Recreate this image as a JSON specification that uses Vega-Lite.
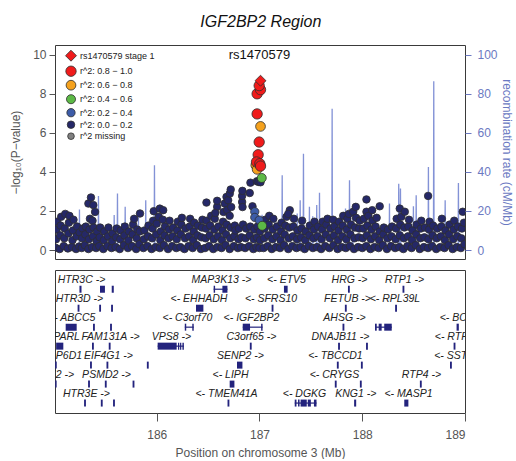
{
"$schema": "https://vega.github.io/schema/vega-lite/v6.json",
"background": "white",
"padding": {"left": 9, "top": 13, "right": 0, "bottom": 0},
"title": {"text": "IGF2BP2 Region", "fontSize": 16, "fontStyle": "italic", "fontWeight": "normal", "color": "#111", "offset": 15, "anchor": "middle"},
"config": {
 "font": "Liberation Sans",
 "view": {"stroke": "#3a3a3a", "strokeWidth": 1},
 "axis": {"grid": false, "domain": false, "labelFontSize": 12, "titleFontSize": 12, "titleFontWeight": "normal", "labelColor": "#555", "titleColor": "#555", "tickColor": "#555", "labelFont": "Liberation Sans", "titleFont": "Liberation Sans"},
 "legend": {"labelFont": "Liberation Sans"}
},
"bounds": "flush",
"spacing": 11,
"vconcat": [
{
 "width": 410, "height": 214,
 "encoding": {"x": {"field": "x", "type": "quantitative", "scale": {"domain": [185.01, 189.0], "nice": false, "zero": false}, "axis": null}},
 "layer": [
 {
  "data": {"values": [
   {"x":185.01,"rate":2},{"x":185.1,"rate":1.5},
   {"x":185.245,"rate":1},{"x":185.248,"rate":20.8},{"x":185.251,"rate":1.5},
   {"x":185.35,"rate":2},
   {"x":185.43,"rate":1},{"x":185.433,"rate":27.6},{"x":185.436,"rate":1.5},
   {"x":185.583,"rate":1},{"x":185.586,"rate":17.9},{"x":185.589,"rate":1.5},
   {"x":185.615,"rate":1.2},{"x":185.618,"rate":28.9},{"x":185.621,"rate":1.5},
   {"x":185.657,"rate":1},{"x":185.66,"rate":13.8},{"x":185.663,"rate":1.2},
   {"x":185.69,"rate":1},{"x":185.693,"rate":22.1},{"x":185.696,"rate":1.2},
   {"x":185.819,"rate":1},{"x":185.822,"rate":17},{"x":185.825,"rate":1.5},
   {"x":185.89,"rate":1},{"x":185.893,"rate":25.5},{"x":185.896,"rate":1.5},
   {"x":185.975,"rate":1},{"x":185.978,"rate":43.4},{"x":185.981,"rate":1.5},
   {"x":186.1,"rate":1},{"x":186.3,"rate":0.8},
   {"x":186.527,"rate":0.8},{"x":186.53,"rate":6.5},{"x":186.533,"rate":0.8},
   {"x":186.7,"rate":1},{"x":186.85,"rate":2},
   {"x":187.022,"rate":2},{"x":187.025,"rate":18},{"x":187.028,"rate":2},
   {"x":187.147,"rate":1.5},{"x":187.15,"rate":15},{"x":187.153,"rate":1.5},
   {"x":187.218,"rate":1.5},{"x":187.221,"rate":38.3},{"x":187.224,"rate":1.5},
   {"x":187.3,"rate":2},
   {"x":187.364,"rate":1.5},{"x":187.367,"rate":18.7},{"x":187.37,"rate":1.5},
   {"x":187.393,"rate":1.5},{"x":187.396,"rate":25.5},{"x":187.399,"rate":1.5},
   {"x":187.425,"rate":1.5},{"x":187.428,"rate":49.3},{"x":187.431,"rate":1.5},
   {"x":187.483,"rate":1.5},{"x":187.486,"rate":22.1},{"x":187.489,"rate":1.5},
   {"x":187.515,"rate":1.5},{"x":187.518,"rate":17.3},{"x":187.521,"rate":1.5},
   {"x":187.554,"rate":1.5},{"x":187.557,"rate":23},{"x":187.56,"rate":1.5},
   {"x":187.581,"rate":1.5},{"x":187.584,"rate":29.3},{"x":187.587,"rate":1.5},
   {"x":187.704,"rate":1.5},{"x":187.707,"rate":72.3},{"x":187.71,"rate":1.5},
   {"x":187.834,"rate":1.5},{"x":187.837,"rate":21.3},{"x":187.84,"rate":1.5},
   {"x":187.873,"rate":1.5},{"x":187.876,"rate":35.7},{"x":187.879,"rate":1.5},
   {"x":187.905,"rate":1.5},{"x":187.908,"rate":22.1},{"x":187.911,"rate":1.5},
   {"x":188.05,"rate":1.5},
   {"x":188.223,"rate":1.5},{"x":188.226,"rate":12.2},{"x":188.229,"rate":1.5},
   {"x":188.262,"rate":1.5},{"x":188.265,"rate":23.8},{"x":188.268,"rate":1.5},
   {"x":188.352,"rate":1.5},{"x":188.355,"rate":34},{"x":188.358,"rate":1.5},
   {"x":188.369,"rate":1.5},{"x":188.372,"rate":31.5},{"x":188.375,"rate":1.5},
   {"x":188.495,"rate":1.5},{"x":188.498,"rate":22.4},{"x":188.501,"rate":1.5},
   {"x":188.522,"rate":1.5},{"x":188.525,"rate":28.1},{"x":188.528,"rate":1.5},
   {"x":188.641,"rate":1.5},{"x":188.644,"rate":42.5},{"x":188.647,"rate":1.5},
   {"x":188.693,"rate":1.5},{"x":188.696,"rate":86.4},{"x":188.699,"rate":1.5},
   {"x":188.804,"rate":1.5},{"x":188.807,"rate":25.5},{"x":188.81,"rate":1.5},
   {"x":188.933,"rate":1.5},{"x":188.936,"rate":34.3},{"x":188.939,"rate":1.5},
   {"x":189.0,"rate":2}
  ]},
  "mark": {"type": "line", "color": "#5A6DC8", "strokeWidth": 1.3, "opacity": 0.75, "clip": true},
  "encoding": {
   "y": {"field": "rate", "type": "quantitative", "scale": {"domain": [-4.6, 105], "nice": false, "zero": false},
    "axis": {"orient": "right", "values": [0,20,40,60,80,100], "title": "recombination rate (cM/Mb)", "labelColor": "#6B79C2", "titleColor": "#6B79C2", "tickColor": "#6B79C2", "tickSize": 6, "labelPadding": 6, "titlePadding": 2}}
  }
 },
 {
  "layer": [
  {
   "data": {"values": [
{"x":185.015,"p":0.12,"ld":"0.0"},{"x":185.02,"p":0.55,"ld":"0.0"},{"x":185.025,"p":1.05,"ld":"0.0"},{"x":185.03,"p":1.45,"ld":"0.0"},
{"x":185.055,"p":0.05,"ld":"0.0"},{"x":185.06,"p":0.75,"ld":"0.0"},{"x":185.065,"p":1.25,"ld":"0.0"},{"x":185.07,"p":1.7,"ld":"0.0"},
{"x":185.095,"p":0.2,"ld":"0.0"},{"x":185.1,"p":0.6,"ld":"0.0"},{"x":185.105,"p":1.1,"ld":"0.0"},{"x":185.11,"p":1.85,"ld":"0.0"},
{"x":185.135,"p":0.08,"ld":"0.0"},{"x":185.14,"p":0.85,"ld":"0.0"},{"x":185.145,"p":1.4,"ld":"0.0"},{"x":185.15,"p":1.75,"ld":"0.0"},
{"x":185.175,"p":0.15,"ld":"0.0"},{"x":185.18,"p":0.5,"ld":"0.0"},{"x":185.185,"p":1.0,"ld":"0.0"},{"x":185.19,"p":1.55,"ld":"0.0"},
{"x":185.215,"p":0.05,"ld":"0.0"},{"x":185.22,"p":0.7,"ld":"0.0"},{"x":185.225,"p":1.2,"ld":"0.0"},
{"x":185.245,"p":0.18,"ld":"0.0"},{"x":185.25,"p":0.9,"ld":"0.0"},
{"x":185.27,"p":0.1,"ld":"0.0"},{"x":185.275,"p":0.6,"ld":"0.0"},{"x":185.28,"p":1.1,"ld":"0.0"},
{"x":185.3,"p":0.25,"ld":"0.0"},{"x":185.305,"p":0.8,"ld":"0.0"},{"x":185.31,"p":1.2,"ld":"0.0"},
{"x":185.335,"p":0.05,"ld":"0.0"},{"x":185.34,"p":0.55,"ld":"0.0"},{"x":185.345,"p":1.05,"ld":"0.0"},{"x":185.335,"p":2.38,"ld":"0.0"},{"x":185.36,"p":2.69,"ld":"0.0"},{"x":185.383,"p":2.3,"ld":"0.0"},{"x":185.4,"p":1.95,"ld":"0.0"},{"x":185.35,"p":1.6,"ld":"0.0"},{"x":185.375,"p":1.5,"ld":"0.0"},
{"x":185.37,"p":0.15,"ld":"0.0"},{"x":185.38,"p":0.7,"ld":"0.0"},{"x":185.385,"p":1.15,"ld":"0.0"},
{"x":185.41,"p":0.1,"ld":"0.0"},{"x":185.415,"p":0.45,"ld":"0.0"},{"x":185.42,"p":0.95,"ld":"0.0"},
{"x":185.44,"p":0.2,"ld":"0.0"},{"x":185.445,"p":0.65,"ld":"0.0"},{"x":185.45,"p":1.15,"ld":"0.0"},
{"x":185.48,"p":0.05,"ld":"0.0"},{"x":185.485,"p":0.5,"ld":"0.0"},{"x":185.49,"p":0.95,"ld":"0.0"},
{"x":185.52,"p":0.2,"ld":"0.0"},{"x":185.525,"p":0.7,"ld":"0.0"},{"x":185.53,"p":1.15,"ld":"0.0"},
{"x":185.56,"p":0.1,"ld":"0.0"},{"x":185.565,"p":0.45,"ld":"0.0"},{"x":185.57,"p":0.85,"ld":"0.0"},
{"x":185.6,"p":0.15,"ld":"0.0"},{"x":185.605,"p":0.65,"ld":"0.0"},{"x":185.61,"p":1.1,"ld":"0.0"},
{"x":185.64,"p":0.05,"ld":"0.0"},{"x":185.645,"p":0.55,"ld":"0.0"},{"x":185.65,"p":1.0,"ld":"0.0"},
{"x":185.68,"p":0.25,"ld":"0.0"},{"x":185.685,"p":0.75,"ld":"0.0"},{"x":185.69,"p":1.2,"ld":"0.0"},
{"x":185.72,"p":0.1,"ld":"0.0"},{"x":185.725,"p":0.5,"ld":"0.0"},{"x":185.73,"p":0.95,"ld":"0.0"},
{"x":185.76,"p":0.2,"ld":"0.0"},{"x":185.765,"p":0.8,"ld":"0.0"},{"x":185.77,"p":1.3,"ld":"0.0"},{"x":185.78,"p":1.6,"ld":"0.0"},
{"x":185.8,"p":0.05,"ld":"0.0"},{"x":185.805,"p":0.6,"ld":"0.0"},{"x":185.81,"p":1.05,"ld":"0.0"},{"x":185.837,"p":1.87,"ld":"0.0"},
{"x":185.83,"p":0.3,"ld":"0.0"},{"x":185.835,"p":0.95,"ld":"0.0"},
{"x":185.87,"p":0.1,"ld":"0.0"},{"x":185.875,"p":0.55,"ld":"0.0"},{"x":185.88,"p":1.0,"ld":"0.0"},
{"x":185.91,"p":0.2,"ld":"0.0"},{"x":185.915,"p":0.7,"ld":"0.0"},{"x":185.92,"p":1.25,"ld":"0.0"},
{"x":185.95,"p":0.05,"ld":"0.0"},{"x":185.955,"p":0.6,"ld":"0.0"},{"x":185.96,"p":1.1,"ld":"0.0"},{"x":185.965,"p":1.5,"ld":"0.0"},{"x":185.971,"p":1.99,"ld":"0.0"},
{"x":185.99,"p":0.15,"ld":"0.0"},{"x":185.995,"p":0.8,"ld":"0.0"},{"x":186.0,"p":1.35,"ld":"0.0"},{"x":186.03,"p":2.12,"ld":"0.0"},{"x":186.02,"p":1.7,"ld":"0.0"},
{"x":186.03,"p":0.1,"ld":"0.0"},{"x":186.035,"p":0.5,"ld":"0.0"},{"x":186.04,"p":0.95,"ld":"0.0"},{"x":186.063,"p":2.04,"ld":"0.0"},{"x":186.06,"p":1.55,"ld":"0.0"},
{"x":186.07,"p":0.25,"ld":"0.0"},{"x":186.075,"p":0.75,"ld":"0.0"},{"x":186.08,"p":1.2,"ld":"0.0"},
{"x":186.11,"p":0.05,"ld":"0.0"},{"x":186.115,"p":0.6,"ld":"0.0"},{"x":186.12,"p":1.05,"ld":"0.0"},{"x":186.125,"p":1.5,"ld":"0.0"},
{"x":186.15,"p":0.2,"ld":"0.0"},{"x":186.155,"p":0.7,"ld":"0.0"},{"x":186.16,"p":1.15,"ld":"0.0"},
{"x":186.19,"p":0.1,"ld":"0.0"},{"x":186.195,"p":0.55,"ld":"0.0"},{"x":186.2,"p":1.0,"ld":"0.0"},{"x":186.205,"p":1.45,"ld":"0.0"},
{"x":186.23,"p":0.15,"ld":"0.0"},{"x":186.235,"p":0.8,"ld":"0.0"},{"x":186.24,"p":1.3,"ld":"0.0"},{"x":186.245,"p":1.65,"ld":"0.0"},
{"x":186.27,"p":0.05,"ld":"0.0"},{"x":186.275,"p":0.6,"ld":"0.0"},{"x":186.28,"p":1.1,"ld":"0.0"},
{"x":186.31,"p":0.2,"ld":"0.0"},{"x":186.315,"p":0.7,"ld":"0.0"},{"x":186.32,"p":1.2,"ld":"0.0"},{"x":186.325,"p":1.6,"ld":"0.0"},
{"x":186.35,"p":0.1,"ld":"0.0"},{"x":186.355,"p":0.5,"ld":"0.0"},{"x":186.36,"p":0.95,"ld":"0.0"},{"x":186.365,"p":1.4,"ld":"0.0"},
{"x":186.39,"p":0.25,"ld":"0.0"},{"x":186.395,"p":0.75,"ld":"0.0"},{"x":186.4,"p":1.25,"ld":"0.0"},
{"x":186.43,"p":0.05,"ld":"0.0"},{"x":186.435,"p":0.65,"ld":"0.0"},{"x":186.44,"p":1.15,"ld":"0.0"},{"x":186.445,"p":1.55,"ld":"0.0"},
{"x":186.484,"p":2.43,"ld":"0.0"},
{"x":186.47,"p":0.1,"ld":"0.0"},{"x":186.475,"p":0.6,"ld":"0.0"},{"x":186.48,"p":1.1,"ld":"0.0"},{"x":186.485,"p":1.5,"ld":"0.0"},
{"x":186.51,"p":0.2,"ld":"0.0"},{"x":186.515,"p":0.75,"ld":"0.0"},{"x":186.52,"p":1.25,"ld":"0.0"},{"x":186.53,"p":1.75,"ld":"0.0"},
{"x":186.55,"p":0.05,"ld":"0.0"},{"x":186.555,"p":0.55,"ld":"0.0"},{"x":186.56,"p":1.05,"ld":"0.0"},{"x":186.565,"p":1.6,"ld":"0.0"},{"x":186.588,"p":2.21,"ld":"0.0"},{"x":186.588,"p":2.52,"ld":"0.0"},{"x":186.57,"p":1.9,"ld":"0.0"},
{"x":186.59,"p":0.15,"ld":"0.0"},{"x":186.595,"p":0.7,"ld":"0.0"},{"x":186.6,"p":1.2,"ld":"0.0"},
{"x":186.63,"p":0.1,"ld":"0.0"},{"x":186.635,"p":0.5,"ld":"0.0"},{"x":186.64,"p":1.0,"ld":"0.0"},{"x":186.645,"p":1.45,"ld":"0.0"},{"x":186.662,"p":2.38,"ld":"0.0"},{"x":186.65,"p":1.95,"ld":"0.0"},{"x":186.679,"p":2.72,"ld":"0.0"},{"x":186.685,"p":2.05,"ld":"0.0"},
{"x":186.67,"p":0.25,"ld":"0.0"},{"x":186.675,"p":0.8,"ld":"0.0"},{"x":186.68,"p":1.3,"ld":"0.0"},{"x":186.695,"p":2.55,"ld":"0.0"},{"x":186.711,"p":2.89,"ld":"0.0"},{"x":186.72,"p":3.1,"ld":"0.0"},{"x":186.71,"p":1.75,"ld":"0.0"},{"x":186.725,"p":2.2,"ld":"0.0"},
{"x":186.71,"p":0.05,"ld":"0.0"},{"x":186.715,"p":0.6,"ld":"0.0"},{"x":186.72,"p":1.15,"ld":"0.0"},
{"x":186.75,"p":0.2,"ld":"0.0"},{"x":186.755,"p":0.7,"ld":"0.0"},{"x":186.76,"p":1.25,"ld":"0.0"},{"x":186.765,"p":1.0,"ld":"0.0"},
{"x":186.79,"p":0.1,"ld":"0.0"},{"x":186.795,"p":0.55,"ld":"0.0"},{"x":186.8,"p":1.1,"ld":"0.0"},
{"x":186.82,"p":0.15,"ld":"0.0"},{"x":186.825,"p":0.65,"ld":"0.0"},{"x":186.831,"p":2.46,"ld":"0.0"},{"x":186.831,"p":2.77,"ld":"0.0"},{"x":186.834,"p":3.03,"ld":"0.0"},{"x":186.835,"p":2.2,"ld":"0.0"},{"x":186.84,"p":1.3,"ld":"0.0"},
{"x":186.86,"p":0.1,"ld":"0.0"},{"x":186.865,"p":0.6,"ld":"0.0"},{"x":186.87,"p":1.1,"ld":"0.0"},
{"x":186.9,"p":0.2,"ld":"0.0"},{"x":186.905,"p":0.75,"ld":"0.0"},{"x":186.905,"p":2.92,"ld":"0.0"},{"x":186.912,"p":3.45,"ld":"0.0"},{"x":186.91,"p":1.2,"ld":"0.0"},
{"x":186.94,"p":0.05,"ld":"0.0"},{"x":186.945,"p":0.55,"ld":"0.0"},{"x":186.932,"p":2.24,"ld":"0.0"},{"x":186.95,"p":1.05,"ld":"0.0"},
{"x":186.97,"p":0.15,"ld":"0.0"},{"x":186.975,"p":0.65,"ld":"0.0"},{"x":186.98,"p":1.2,"ld":"0.0"},
{"x":187.0,"p":0.1,"ld":"0.0"},{"x":187.005,"p":0.5,"ld":"0.0"},{"x":187.005,"p":0.95,"ld":"0.0"},
{"x":186.975,"p":3.52,"ld":"0.0"},{"x":186.99,"p":3.49,"ld":"0.0"},{"x":187.01,"p":3.47,"ld":"0.0"},
{"x":187.04,"p":0.1,"ld":"0.0"},{"x":187.045,"p":0.6,"ld":"0.0"},{"x":187.05,"p":1.1,"ld":"0.0"},{"x":187.055,"p":1.55,"ld":"0.0"},
{"x":187.08,"p":0.2,"ld":"0.0"},{"x":187.085,"p":0.75,"ld":"0.0"},{"x":187.09,"p":1.3,"ld":"0.0"},{"x":187.095,"p":1.75,"ld":"0.0"},
{"x":187.12,"p":0.05,"ld":"0.0"},{"x":187.125,"p":0.55,"ld":"0.0"},{"x":187.13,"p":1.05,"ld":"0.0"},{"x":187.135,"p":1.6,"ld":"0.0"},
{"x":187.16,"p":0.15,"ld":"0.0"},{"x":187.165,"p":0.7,"ld":"0.0"},{"x":187.17,"p":1.2,"ld":"0.0"},
{"x":187.2,"p":0.1,"ld":"0.0"},{"x":187.205,"p":0.5,"ld":"0.0"},{"x":187.21,"p":0.95,"ld":"0.0"},{"x":187.215,"p":1.4,"ld":"0.0"},
{"x":187.24,"p":0.25,"ld":"0.0"},{"x":187.245,"p":0.8,"ld":"0.0"},{"x":187.25,"p":1.25,"ld":"0.0"},{"x":187.263,"p":1.7,"ld":"0.0"},{"x":187.295,"p":2.04,"ld":"0.0"},{"x":187.28,"p":1.85,"ld":"0.0"},
{"x":187.28,"p":0.05,"ld":"0.0"},{"x":187.285,"p":0.6,"ld":"0.0"},{"x":187.29,"p":1.15,"ld":"0.0"},
{"x":187.32,"p":0.2,"ld":"0.0"},{"x":187.325,"p":0.7,"ld":"0.0"},{"x":187.33,"p":1.2,"ld":"0.0"},{"x":187.335,"p":1.6,"ld":"0.0"},
{"x":187.36,"p":0.1,"ld":"0.0"},{"x":187.365,"p":0.55,"ld":"0.0"},{"x":187.37,"p":1.0,"ld":"0.0"},
{"x":187.4,"p":0.15,"ld":"0.0"},{"x":187.405,"p":0.65,"ld":"0.0"},{"x":187.41,"p":1.1,"ld":"0.0"},{"x":187.415,"p":1.5,"ld":"0.0"},
{"x":187.44,"p":0.05,"ld":"0.0"},{"x":187.445,"p":0.5,"ld":"0.0"},{"x":187.45,"p":0.95,"ld":"0.0"},
{"x":187.48,"p":0.2,"ld":"0.0"},{"x":187.485,"p":0.75,"ld":"0.0"},{"x":187.49,"p":1.25,"ld":"0.0"},
{"x":187.52,"p":0.1,"ld":"0.0"},{"x":187.525,"p":0.6,"ld":"0.0"},{"x":187.53,"p":1.05,"ld":"0.0"},{"x":187.535,"p":1.45,"ld":"0.0"},
{"x":187.56,"p":0.15,"ld":"0.0"},{"x":187.565,"p":0.7,"ld":"0.0"},{"x":187.57,"p":1.2,"ld":"0.0"},
{"x":187.6,"p":0.05,"ld":"0.0"},{"x":187.605,"p":0.55,"ld":"0.0"},{"x":187.61,"p":1.05,"ld":"0.0"},{"x":187.615,"p":1.45,"ld":"0.0"},
{"x":187.64,"p":0.2,"ld":"0.0"},{"x":187.645,"p":0.8,"ld":"0.0"},{"x":187.65,"p":1.3,"ld":"0.0"},{"x":187.662,"p":1.6,"ld":"0.0"},
{"x":187.68,"p":0.1,"ld":"0.0"},{"x":187.685,"p":0.6,"ld":"0.0"},{"x":187.69,"p":1.1,"ld":"0.0"},{"x":187.717,"p":1.55,"ld":"0.0"},
{"x":187.72,"p":0.25,"ld":"0.0"},{"x":187.725,"p":0.75,"ld":"0.0"},{"x":187.73,"p":1.2,"ld":"0.0"},
{"x":187.76,"p":0.05,"ld":"0.0"},{"x":187.765,"p":0.5,"ld":"0.0"},{"x":187.77,"p":1.0,"ld":"0.0"},{"x":187.775,"p":1.45,"ld":"0.0"},
{"x":187.8,"p":0.15,"ld":"0.0"},{"x":187.805,"p":0.7,"ld":"0.0"},{"x":187.81,"p":1.25,"ld":"0.0"},{"x":187.815,"p":1.75,"ld":"0.0"},
{"x":187.84,"p":0.1,"ld":"0.0"},{"x":187.845,"p":0.55,"ld":"0.0"},{"x":187.85,"p":1.05,"ld":"0.0"},{"x":187.855,"p":1.6,"ld":"0.0"},{"x":187.87,"p":1.85,"ld":"0.0"},
{"x":187.88,"p":0.2,"ld":"0.0"},{"x":187.885,"p":0.8,"ld":"0.0"},{"x":187.89,"p":1.3,"ld":"0.0"},{"x":187.912,"p":1.96,"ld":"0.0"},{"x":187.937,"p":2.21,"ld":"0.0"},
{"x":187.92,"p":0.05,"ld":"0.0"},{"x":187.925,"p":0.6,"ld":"0.0"},{"x":187.93,"p":1.15,"ld":"0.0"},{"x":187.94,"p":1.65,"ld":"0.0"},
{"x":187.96,"p":0.15,"ld":"0.0"},{"x":187.965,"p":0.65,"ld":"0.0"},{"x":187.97,"p":1.1,"ld":"0.0"},{"x":187.975,"p":1.5,"ld":"0.0"},
{"x":188.0,"p":0.1,"ld":"0.0"},{"x":188.005,"p":0.6,"ld":"0.0"},{"x":188.01,"p":1.1,"ld":"0.0"},{"x":188.015,"p":1.6,"ld":"0.0"},
{"x":188.04,"p":0.2,"ld":"0.0"},{"x":188.045,"p":0.75,"ld":"0.0"},{"x":188.05,"p":1.25,"ld":"0.0"},{"x":188.041,"p":1.96,"ld":"0.0"},{"x":188.041,"p":2.59,"ld":"0.0"},{"x":188.06,"p":1.75,"ld":"0.0"},
{"x":188.08,"p":0.05,"ld":"0.0"},{"x":188.085,"p":0.55,"ld":"0.0"},{"x":188.09,"p":1.05,"ld":"0.0"},{"x":188.097,"p":2.04,"ld":"0.0"},{"x":188.1,"p":1.5,"ld":"0.0"},
{"x":188.12,"p":0.15,"ld":"0.0"},{"x":188.125,"p":0.7,"ld":"0.0"},{"x":188.13,"p":1.2,"ld":"0.0"},{"x":188.14,"p":1.65,"ld":"0.0"},{"x":188.17,"p":2.24,"ld":"0.0"},
{"x":188.16,"p":0.1,"ld":"0.0"},{"x":188.165,"p":0.5,"ld":"0.0"},{"x":188.17,"p":0.95,"ld":"0.0"},
{"x":188.2,"p":0.25,"ld":"0.0"},{"x":188.205,"p":0.8,"ld":"0.0"},{"x":188.21,"p":1.15,"ld":"0.0"},
{"x":188.24,"p":0.05,"ld":"0.0"},{"x":188.245,"p":0.6,"ld":"0.0"},{"x":188.25,"p":1.05,"ld":"0.0"},
{"x":188.28,"p":0.2,"ld":"0.0"},{"x":188.285,"p":0.7,"ld":"0.0"},{"x":188.29,"p":1.2,"ld":"0.0"},
{"x":188.32,"p":0.1,"ld":"0.0"},{"x":188.325,"p":0.55,"ld":"0.0"},{"x":188.33,"p":1.1,"ld":"0.0"},{"x":188.335,"p":1.6,"ld":"0.0"},
{"x":188.36,"p":0.15,"ld":"0.0"},{"x":188.365,"p":0.75,"ld":"0.0"},{"x":188.37,"p":1.3,"ld":"0.0"},{"x":188.365,"p":2.12,"ld":"0.0"},{"x":188.38,"p":1.7,"ld":"0.0"},
{"x":188.4,"p":0.05,"ld":"0.0"},{"x":188.405,"p":0.6,"ld":"0.0"},{"x":188.41,"p":1.15,"ld":"0.0"},{"x":188.414,"p":1.96,"ld":"0.0"},
{"x":188.44,"p":0.2,"ld":"0.0"},{"x":188.445,"p":0.7,"ld":"0.0"},{"x":188.45,"p":1.2,"ld":"0.0"},{"x":188.455,"p":1.55,"ld":"0.0"},
{"x":188.48,"p":0.1,"ld":"0.0"},{"x":188.485,"p":0.5,"ld":"0.0"},{"x":188.49,"p":1.0,"ld":"0.0"},
{"x":188.52,"p":0.25,"ld":"0.0"},{"x":188.525,"p":0.8,"ld":"0.0"},{"x":188.53,"p":1.3,"ld":"0.0"},
{"x":188.56,"p":0.05,"ld":"0.0"},{"x":188.565,"p":0.6,"ld":"0.0"},{"x":188.57,"p":1.1,"ld":"0.0"},{"x":188.575,"p":1.5,"ld":"0.0"},
{"x":188.6,"p":0.15,"ld":"0.0"},{"x":188.605,"p":0.65,"ld":"0.0"},{"x":188.61,"p":1.15,"ld":"0.0"},{"x":188.641,"p":2.77,"ld":"0.0"},
{"x":188.64,"p":0.1,"ld":"0.0"},{"x":188.645,"p":0.55,"ld":"0.0"},{"x":188.65,"p":1.05,"ld":"0.0"},{"x":188.655,"p":1.45,"ld":"0.0"},
{"x":188.68,"p":0.2,"ld":"0.0"},{"x":188.685,"p":0.75,"ld":"0.0"},{"x":188.69,"p":1.25,"ld":"0.0"},
{"x":188.72,"p":0.05,"ld":"0.0"},{"x":188.725,"p":0.6,"ld":"0.0"},{"x":188.73,"p":1.1,"ld":"0.0"},
{"x":188.76,"p":0.15,"ld":"0.0"},{"x":188.765,"p":0.7,"ld":"0.0"},{"x":188.77,"p":1.2,"ld":"0.0"},{"x":188.775,"p":1.6,"ld":"0.0"},
{"x":188.8,"p":0.1,"ld":"0.0"},{"x":188.805,"p":0.5,"ld":"0.0"},{"x":188.81,"p":1.0,"ld":"0.0"},
{"x":188.84,"p":0.25,"ld":"0.0"},{"x":188.845,"p":0.8,"ld":"0.0"},{"x":188.85,"p":1.3,"ld":"0.0"},
{"x":188.88,"p":0.05,"ld":"0.0"},{"x":188.885,"p":0.55,"ld":"0.0"},{"x":188.89,"p":1.05,"ld":"0.0"},{"x":188.895,"p":1.5,"ld":"0.0"},
{"x":188.92,"p":0.15,"ld":"0.0"},{"x":188.925,"p":0.7,"ld":"0.0"},{"x":188.93,"p":1.2,"ld":"0.0"},
{"x":188.96,"p":0.1,"ld":"0.0"},{"x":188.965,"p":0.6,"ld":"0.0"},{"x":188.97,"p":1.1,"ld":"0.0"},{"x":188.978,"p":1.96,"ld":"0.0"},{"x":188.99,"p":1.4,"ld":"0.0"},
{"x":188.995,"p":0.3,"ld":"0.0"},
{"x":186.954,"p":1.96,"ld":"0.2"},{"x":186.954,"p":1.67,"ld":"0.2"},{"x":186.997,"p":1.53,"ld":"0.2"},
{"x":187.026,"p":1.24,"ld":"0.4"},{"x":187.022,"p":3.69,"ld":"0.4"},
{"x":186.964,"p":4.34,"ld":"0.6"},{"x":186.977,"p":4.13,"ld":"0.6"},{"x":187.01,"p":6.33,"ld":"0.6"},
{"x":186.987,"p":4.88,"ld":"0.8"},{"x":186.971,"p":4.51,"ld":"0.8"},{"x":187.003,"p":4.42,"ld":"0.8"},{"x":187.01,"p":4.3,"ld":"0.8"},{"x":186.997,"p":5.53,"ld":"0.8"},{"x":186.977,"p":6.97,"ld":"0.8"},{"x":186.977,"p":8.0,"ld":"0.8"},{"x":187.01,"p":8.21,"ld":"0.8"},{"x":186.997,"p":8.42,"ld":"0.8"},
{"x":187.01,"p":8.67,"ld":"lead"}
   ]},
   "mark": {"type": "point", "filled": true, "stroke": "#2e2e2e", "strokeWidth": 0.8, "opacity": 1, "clip": true},
   "encoding": {
    "y": {"field": "p", "type": "quantitative", "scale": {"domain": [-0.46, 10.5], "nice": false, "zero": false},
     "axis": {"orient": "left", "values": [0,2,4,6,8,10], "title": "−log₁₀(P−value)", "tickSize": 6, "labelPadding": 3, "titlePadding": 10}},
    "color": {"field": "ld", "type": "nominal",
     "scale": {"domain": ["lead","0.8","0.6","0.4","0.2","0.0","na"], "range": ["#F01B1B","#F01B1B","#F5A21E","#5CB946","#3D5CA8","#252868","#808080"]},
     "legend": {"orient": "none", "legendX": 10, "legendY": 4.7, "title": null, "labelFontSize": 9, "labelColor": "#222", "rowPadding": 0.5, "padding": 0, "labelOffset": 3, "symbolStrokeColor": "#2e2e2e", "symbolStrokeWidth": 0.8,
      "labelExpr": "datum.label=='lead'?'rs1470579 stage 1':datum.label=='0.8'?'r^2: 0.8 − 1.0':datum.label=='0.6'?'r^2: 0.6 − 0.8':datum.label=='0.4'?'r^2: 0.4 − 0.6':datum.label=='0.2'?'r^2: 0.2 − 0.4':datum.label=='0.0'?'r^2: 0.0 − 0.2':'r^2 missing'"}},
    "shape": {"field": "ld", "type": "nominal", "scale": {"domain": ["lead","0.8","0.6","0.4","0.2","0.0","na"], "range": ["diamond","circle","circle","circle","circle","circle","circle"]}},
    "size": {"field": "ld", "type": "nominal", "scale": {"domain": ["lead","0.8","0.6","0.4","0.2","0.0","na"], "range": [120,44,44,44,44,44,44]}}
   }
  },
  {
   "data": {"values": [{"x": 187.0, "p": 10, "t": "rs1470579"}]},
   "mark": {"type": "text", "fontSize": 13, "color": "#111", "baseline": "middle"},
   "encoding": {"y": {"field": "p", "type": "quantitative"}, "text": {"field": "t"}}
  }
  ]
 }
 ],
 "resolve": {"scale": {"y": "independent"}}
},
{
 "width": 410, "height": 143,
 "encoding": {
  "x": {"field": "s", "type": "quantitative", "scale": {"domain": [185.01, 189.0], "nice": false, "zero": false},
   "axis": {"values": [186,187,188,189], "title": "Position on chromosome 3 (Mb)", "tickSize": 8, "labelPadding": 8, "titlePadding": 7, "format": "d"}},
  "y": {"field": "row", "type": "quantitative", "scale": {"domain": [0.25, 7.26], "reverse": true, "nice": false, "zero": false}, "axis": null}
 },
 "layer": [
 {
  "data": {"values": [
   {"row":1,"s":186.554,"e":186.688},{"row":3,"s":186.273,"e":186.36},{"row":3,"s":186.837,"e":187.03},
   {"row":3,"s":188.124,"e":188.287},{"row":4,"s":186.009,"e":186.264},{"row":7,"s":187.343,"e":187.555}
  ]},
  "mark": {"type": "rule", "color": "#23237D", "strokeWidth": 1.2, "clip": true},
  "encoding": {"x2": {"field": "e"}}
 },
 {
  "data": {"values": [
   {"row":1,"s":185.248,"e":185.268},{"row":1,"s":185.448,"e":185.496},{"row":1,"s":185.562,"e":185.582},{"row":1,"s":186.554,"e":186.568},{"row":1,"s":186.639,"e":186.688},{"row":1,"s":187.238,"e":187.274},{"row":1,"s":187.861,"e":187.879},{"row":1,"s":188.392,"e":188.41},
   {"row":2,"s":185.23,"e":185.248},{"row":2,"s":185.44,"e":185.458},{"row":2,"s":185.556,"e":185.574},{"row":2,"s":186.382,"e":186.454},{"row":2,"s":187.118,"e":187.136},{"row":2,"s":187.831,"e":187.849},{"row":2,"s":188.32,"e":188.338},
   {"row":3,"s":185.114,"e":185.221},{"row":3,"s":185.38,"e":185.398},{"row":3,"s":185.546,"e":185.564},{"row":3,"s":186.273,"e":186.287},{"row":3,"s":186.346,"e":186.36},{"row":3,"s":186.837,"e":186.908},{"row":3,"s":187.016,"e":187.03},{"row":3,"s":187.808,"e":187.826},{"row":3,"s":188.124,"e":188.141},{"row":3,"s":188.16,"e":188.189},{"row":3,"s":188.214,"e":188.287},{"row":3,"s":188.918,"e":188.94},
   {"row":4,"s":185.021,"e":185.091},{"row":4,"s":185.37,"e":185.388},{"row":4,"s":185.533,"e":185.551},{"row":4,"s":186.009,"e":186.194},{"row":4,"s":186.207,"e":186.219},{"row":4,"s":186.227,"e":186.239},{"row":4,"s":186.25,"e":186.264},{"row":4,"s":186.906,"e":186.924},{"row":4,"s":187.765,"e":187.783},{"row":4,"s":188.037,"e":188.055},{"row":4,"s":188.889,"e":188.907},
   {"row":5,"s":185.011,"e":185.027},{"row":5,"s":185.351,"e":185.369},{"row":5,"s":185.511,"e":185.529},{"row":5,"s":185.904,"e":185.922},{"row":5,"s":186.781,"e":186.834},{"row":5,"s":187.753,"e":187.771},{"row":5,"s":187.987,"e":188.005},{"row":5,"s":188.854,"e":188.872},
   {"row":6,"s":185.012,"e":185.026},{"row":6,"s":185.332,"e":185.35},{"row":6,"s":185.495,"e":185.513},{"row":6,"s":185.765,"e":185.783},{"row":6,"s":186.71,"e":186.756},{"row":6,"s":187.733,"e":187.751},{"row":6,"s":187.977,"e":187.995},{"row":6,"s":188.561,"e":188.579},
   {"row":7,"s":185.293,"e":185.311},{"row":7,"s":185.456,"e":185.474},{"row":7,"s":185.575,"e":185.593},{"row":7,"s":186.689,"e":186.707},{"row":7,"s":187.343,"e":187.36},{"row":7,"s":187.375,"e":187.39},{"row":7,"s":187.4,"e":187.46},{"row":7,"s":187.47,"e":187.5},{"row":7,"s":187.53,"e":187.555},{"row":7,"s":187.921,"e":187.941},{"row":7,"s":188.409,"e":188.449}
  ]},
  "mark": {"type": "bar", "height": 7, "color": "#23237D", "clip": true},
  "encoding": {"x2": {"field": "e"}}
 },
 {
  "data": {"values": [
   {"row":1,"s":185.268,"g":"HTR3C ->"},{"row":1,"s":186.63,"g":"MAP3K13 ->"},{"row":1,"s":187.263,"g":"<- ETV5"},{"row":1,"s":187.876,"g":"HRG ->"},{"row":1,"s":188.411,"g":"RTP1 ->"},
   {"row":2,"s":185.248,"g":"HTR3D ->"},{"row":2,"s":186.411,"g":"<- EHHADH"},{"row":2,"s":187.112,"g":"<- SFRS10"},{"row":2,"s":187.856,"g":"FETUB ->"},{"row":2,"s":188.318,"g":"<- RPL39L"},
   {"row":3,"s":185.173,"g":"<- ABCC5"},{"row":3,"s":186.299,"g":"<- C3orf70"},{"row":3,"s":186.922,"g":"<- IGF2BP2"},{"row":3,"s":187.827,"g":"AHSG ->"},{"row":3,"s":188.943,"g":"<- BCL6"},
   {"row":4,"s":185.062,"g":"<- PARL"},{"row":4,"s":185.55,"g":"FAM131A ->"},{"row":4,"s":186.143,"g":"VPS8 ->"},{"row":4,"s":186.922,"g":"C3orf65 ->"},{"row":4,"s":187.788,"g":"DNAJB11 ->"},{"row":4,"s":188.897,"g":"<- RTP2"},
   {"row":5,"s":185.008,"g":"<- MAP6D1"},{"row":5,"s":185.53,"g":"EIF4G1 ->"},{"row":5,"s":186.815,"g":"SENP2 ->"},{"row":5,"s":187.739,"g":"<- TBCCD1"},{"row":5,"s":188.86,"g":"<- SST"},
   {"row":6,"s":185.002,"g":"ECE2 ->"},{"row":6,"s":185.511,"g":"PSMD2 ->"},{"row":6,"s":186.718,"g":"<- LIPH"},{"row":6,"s":187.729,"g":"<- CRYGS"},{"row":6,"s":188.576,"g":"RTP4 ->"},
   {"row":7,"s":185.316,"g":"HTR3E ->"},{"row":7,"s":186.679,"g":"<- TMEM41A"},{"row":7,"s":187.438,"g":"<- DGKG"},{"row":7,"s":187.937,"g":"KNG1 ->"},{"row":7,"s":188.45,"g":"<- MASP1"}
  ]},
  "mark": {"type": "text", "fontStyle": "italic", "fontSize": 10.5, "dy": -9.5, "color": "#222", "clip": true, "baseline": "middle"},
  "encoding": {"text": {"field": "g"}}
 }
 ]
}
]
}
